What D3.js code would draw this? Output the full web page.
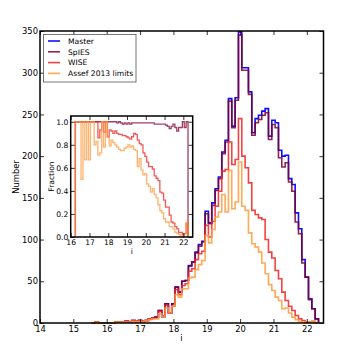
<!DOCTYPE html>
<html>
<head>
<meta charset="utf-8">
<script src="https://cdn.jsdelivr.net/npm/d3@7"></script>
<style>
  body { margin: 0; background: #fff; }
  text { font-family: "DejaVu Sans", sans-serif; fill: #000; }
</style>
</head>
<body>
<div id="chart"></div>
<script>
// bin centres of the main histogram (width 0.1 mag)
const mainBins = [15.6, 15.7, 15.8, 15.9,
  16.0, 16.1, 16.2, 16.3, 16.4, 16.5, 16.6, 16.7, 16.8, 16.9,
  17.0, 17.1, 17.2, 17.3, 17.4, 17.5, 17.6, 17.7, 17.8, 17.9,
  18.0, 18.1, 18.2, 18.3, 18.4, 18.5, 18.6, 18.7, 18.8, 18.9,
  19.0, 19.1, 19.2, 19.3, 19.4, 19.5, 19.6, 19.7, 19.8, 19.9,
  20.0, 20.1, 20.2, 20.3, 20.4, 20.5, 20.6, 20.7, 20.8, 20.9,
  21.0, 21.1, 21.2, 21.3, 21.4, 21.5, 21.6, 21.7, 21.8, 21.9,
  22.0, 22.1, 22.2, 22.3];

const master = [0, 1, 0, 0,
  0, 0, 0, 1, 1, 1, 2, 1, 3, 2,
  3, 2, 3, 5, 6, 7, 15, 8, 23, 12,
  23, 43, 37, 50, 51, 69, 73, 85, 94, 98,
  134, 120, 144, 161, 175, 205, 219, 269, 236, 270,
  349, 306, 306, 277, 228, 245, 249, 254, 257, 224,
  243, 240, 207, 200, 201, 173, 166, 132, 113, 76,
  55, 29, 17, 5];

const spies = [0, 1, 0, 0,
  0, 0, 0, 1, 1, 1, 2, 1, 3, 2,
  3, 2, 3, 5, 6, 7, 15, 8, 23, 12,
  23, 43, 37, 50, 51, 68, 73, 84, 92, 97,
  131, 119, 141, 159, 173, 203, 217, 266, 234, 267,
  345, 303, 303, 274, 225, 240, 244, 249, 252, 220,
  238, 234, 198, 187, 192, 169, 158, 121, 107, 72,
  55, 28, 17, 5];

const wise = [0, 1, 0, 0,
  0, 0, 0, 1, 1, 1, 2, 1, 3, 2,
  3, 2, 3, 5, 6, 6, 14, 8, 21, 12,
  20, 40, 34, 45, 47, 62, 65, 76, 83, 86,
  117, 103, 122, 140, 158, 182, 184, 217, 190, 196,
  245, 200, 186, 168, 135, 130, 126, 124, 100, 85,
  78, 63, 53, 37, 27, 20, 15, 9, 5, 3,
  1, 1, 2, 0];

const assef = [0, 1, 0, 0,
  0, 0, 0, 1, 1, 1, 1, 1, 2, 2,
  2, 2, 3, 4, 5, 5, 11, 8, 18, 12,
  20, 34, 31, 41, 41, 54, 55, 64, 70, 75,
  105, 96, 112, 127, 133, 154, 133, 183, 137, 145,
  193, 140, 135, 108, 95, 91, 85, 72, 59, 46,
  39, 31, 27, 17, 18, 12, 7, 4, 2, 1,
  0, 1, 2, 0];

// inset: fraction of the master sample
const fracBins = [16.3, 16.4, 16.5, 16.6, 16.7, 16.8, 16.9,
  17.0, 17.1, 17.2, 17.3, 17.4, 17.5, 17.6, 17.7, 17.8, 17.9,
  18.0, 18.1, 18.2, 18.3, 18.4, 18.5, 18.6, 18.7, 18.8, 18.9,
  19.0, 19.1, 19.2, 19.3, 19.4, 19.5, 19.6, 19.7, 19.8, 19.9,
  20.0, 20.1, 20.2, 20.3, 20.4, 20.5, 20.6, 20.7, 20.8, 20.9,
  21.0, 21.1, 21.2, 21.3, 21.4, 21.5, 21.6, 21.7, 21.8, 21.9,
  22.0, 22.1, 22.2];

const spiesFrac = [1, 1, 1, 1, 1, 1, 1,
  1, 1, 1, 1, 1, 1, 1, 1, 1, 1,
  1, 1, 1, 1, 1, 0.99, 1, 0.99, 0.98, 0.99,
  0.98, 0.99, 0.98, 0.99, 0.99, 0.99, 0.99, 0.99, 0.99, 0.99,
  0.99, 0.99, 0.99, 0.99, 0.99, 0.98, 0.98, 0.98, 0.98, 0.98,
  0.98, 0.97, 0.96, 0.94, 0.96, 0.98, 0.95, 0.92, 0.95, 0.95,
  1.0, 0.95, 1.0];

const wiseFrac = [1, 1, 1, 1, 1, 1, 1,
  1, 1, 1, 1, 1, 0.86, 0.93, 1.0, 0.91, 1.0,
  0.87, 0.93, 0.92, 0.9, 0.92, 0.9, 0.89, 0.89, 0.88, 0.88,
  0.87, 0.86, 0.85, 0.87, 0.9, 0.89, 0.84, 0.81, 0.8, 0.73,
  0.7, 0.65, 0.61, 0.61, 0.59, 0.53, 0.51, 0.49, 0.39, 0.38,
  0.32, 0.26, 0.26, 0.19, 0.13, 0.12, 0.09, 0.07, 0.04, 0.04,
  0.02, 0.03, 0.12];

const assefFrac = [1, 1, 1, 0.5, 1, 0.67, 1,
  0.67, 1, 1, 0.8, 0.83, 0.71, 0.73, 1, 0.78, 1,
  0.87, 0.79, 0.84, 0.82, 0.8, 0.78, 0.76, 0.75, 0.75, 0.77,
  0.78, 0.8, 0.78, 0.79, 0.76, 0.75, 0.61, 0.68, 0.58, 0.54,
  0.55, 0.46, 0.44, 0.39, 0.42, 0.37, 0.34, 0.28, 0.23, 0.21,
  0.16, 0.13, 0.13, 0.09, 0.09, 0.07, 0.04, 0.03, 0.02, 0.01,
  0.0, 0.03, 0.12];

const seriesNames = ["Master", "SpIES", "WISE", "Assef 2013 limits"];
const seriesColors = ["#0000ff", "#800028", "#ee2222", "#ff9a3c"];
const seriesOpacity = [0.95, 0.85, 0.85, 0.85];
const mainTicksX = [14, 15, 16, 17, 18, 19, 20, 21, 22];
const mainTicksY = [0, 50, 100, 150, 200, 250, 300, 350];
const insetTicksX = [16, 17, 18, 19, 20, 21, 22];
const insetTicksY = [0, 0.2, 0.4, 0.6, 0.8, 1.0];

const width = 354, height = 354;
const binW = 0.1;

const svg = d3.select("#chart").append("svg")
  .attr("width", width)
  .attr("height", height);
svg.append("rect").attr("width", width).attr("height", height).attr("fill", "#fff");

// outline of a step histogram, from baseline to baseline
function stepPoints(centers, vals) {
  const pts = [[centers[0] - binW / 2, 0]];
  centers.forEach((c, i) => {
    pts.push([c - binW / 2, vals[i]]);
    pts.push([c + binW / 2, vals[i]]);
  });
  pts.push([centers[centers.length - 1] + binW / 2, 0]);
  return pts;
}

function drawAxes(g, x, y, ticksX, ticksY, fmtY, fontSize, padX, padY) {
  const [x0, x1] = x.range();
  const [y0, y1] = y.range();
  g.append("g").attr("transform", `translate(0,${y0})`)
    .call(d3.axisBottom(x).tickValues(ticksX).tickSize(-4).tickSizeOuter(0).tickPadding(padX).tickFormat(d3.format("d")));
  g.append("g").attr("transform", `translate(0,${y1})`)
    .call(d3.axisTop(x).tickValues(ticksX).tickSize(-4).tickSizeOuter(0).tickFormat(""));
  g.append("g").attr("transform", `translate(${x0},0)`)
    .call(d3.axisLeft(y).tickValues(ticksY).tickSize(-4).tickSizeOuter(0).tickPadding(padY).tickFormat(fmtY));
  g.append("g").attr("transform", `translate(${x1},0)`)
    .call(d3.axisRight(y).tickValues(ticksY).tickSize(-4).tickSizeOuter(0).tickFormat(""));
  g.selectAll(".domain").remove();
  g.selectAll(".tick line").attr("stroke", "#000").attr("stroke-width", 0.8);
  g.selectAll(".tick text").style("font-size", fontSize + "px").attr("fill", "#000")
    .style("font-family", "'DejaVu Sans', sans-serif");
  g.append("rect")
    .attr("x", x0).attr("y", y1)
    .attr("width", x1 - x0).attr("height", y0 - y1)
    .attr("fill", "none").attr("stroke", "#000").attr("stroke-width", 1.5);
}

// ---- main panel ----
const x = d3.scaleLinear().domain([14, 22.5]).range([40, 323.5]);
const y = d3.scaleLinear().domain([0, 350]).range([323, 31]);

const main = svg.append("g");
const line = d3.line().x(d => x(d[0])).y(d => y(d[1]));

[master, spies, wise, assef].forEach((vals, i) => {
  main.append("path")
    .attr("d", line(stepPoints(mainBins, vals)))
    .attr("fill", "none")
    .attr("stroke", seriesColors[i])
    .attr("stroke-width", 1.6)
    .attr("stroke-opacity", seriesOpacity[i]);
});

drawAxes(main, x, y, mainTicksX, mainTicksY, d3.format("d"), 8.4, 3, 2);

main.append("text")
  .attr("x", 181.5).attr("y", 341)
  .attr("text-anchor", "middle")
  .style("font-size", "8.4px")
  .text("i");
main.append("text")
  .attr("transform", "translate(19,177) rotate(-90)")
  .attr("text-anchor", "middle")
  .style("font-size", "8.4px")
  .text("Number");

// ---- legend ----
const legend = svg.append("g");
legend.append("rect")
  .attr("x", 43.5).attr("y", 34.5)
  .attr("width", 92.5).attr("height", 47.5)
  .attr("fill", "#fff").attr("stroke", "#555").attr("stroke-width", 0.8);

const legendItem = legend.selectAll(".item")
  .data(seriesNames)
  .enter().append("g")
  .attr("class", "item")
  .attr("transform", (d, i) => `translate(0,${41 + i * 10.8})`);

legendItem.append("line")
  .attr("x1", 48).attr("x2", 60)
  .attr("stroke", (d, i) => seriesColors[i])
  .attr("stroke-width", 1.6)
  .attr("stroke-opacity", (d, i) => seriesOpacity[i]);

legendItem.append("text")
  .attr("x", 68).attr("y", 2.8)
  .style("font-size", "7.6px")
  .text(d => d);

// ---- inset ----
const xi = d3.scaleLinear().domain([16, 22.5]).range([70.7, 192.7]);
const yi = d3.scaleLinear().domain([0, 1.05]).range([237, 116]);

const inset = svg.append("g");
inset.append("rect")
  .attr("x", 70.7).attr("y", 116)
  .attr("width", 122).attr("height", 121)
  .attr("fill", "#fff");

const lineI = d3.line().x(d => xi(d[0])).y(d => yi(d[1]));
[spiesFrac, wiseFrac, assefFrac].forEach((vals, i) => {
  inset.append("path")
    .attr("d", lineI(stepPoints(fracBins, vals)))
    .attr("fill", "none")
    .attr("stroke", seriesColors[i + 1])
    .attr("stroke-width", 1.3)
    .attr("stroke-opacity", 0.75);
});

drawAxes(inset, xi, yi, insetTicksX, insetTicksY, d3.format(".1f"), 7.6, 3, 2.4);

inset.append("text")
  .attr("x", 131.7).attr("y", 254)
  .attr("text-anchor", "middle")
  .style("font-size", "7.6px")
  .text("i");
inset.append("text")
  .attr("transform", "translate(54,176.5) rotate(-90)")
  .attr("text-anchor", "middle")
  .style("font-size", "7.6px")
  .text("Fraction");
</script>
</body>
</html>
